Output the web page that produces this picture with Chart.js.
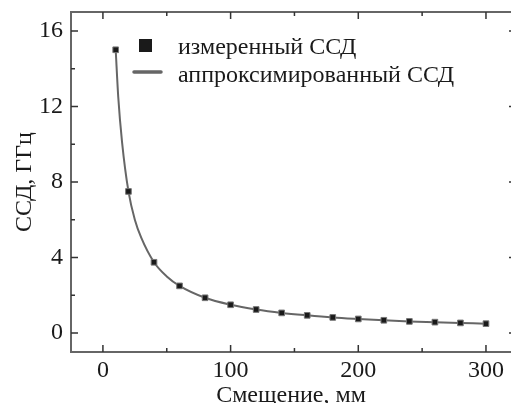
<!DOCTYPE html>
<html>
<head>
<meta charset="utf-8">
<style>
  html, body { margin: 0; padding: 0; background: #fff; }
  canvas { display: block; }
</style>
</head>
<body>
<div>
  <canvas id="chart" width="511" height="403"></canvas>
</div>

<script src="https://cdn.jsdelivr.net/npm/chart.js"></script>

<script>
  const offsets = [10, 20, 40, 60, 80, 100, 120, 140, 160, 180, 200, 220, 240, 260, 280, 300];
  const measured = [15, 7.5, 3.75, 2.5, 1.87, 1.5, 1.25, 1.07, 0.94, 0.83, 0.75, 0.68, 0.62, 0.58, 0.54, 0.5];
  // fitted curve at a few extra offsets
  const fitOffsets = [10, 12, 15, 20, 25, 30, 40, 50, 60, 80, 100, 120, 140, 160, 180, 200, 220, 240, 260, 280, 300];
  const fitted = [15, 12.5, 10.1, 7.5, 6.0, 5.05, 3.75, 3.0, 2.5, 1.87, 1.5, 1.25, 1.07, 0.94, 0.83, 0.75, 0.68, 0.62, 0.58, 0.54, 0.5];
  const xTicks = [0, 100, 200, 300];
  const yTicks = [0, 4, 8, 12, 16];
  const seriesNames = ['измеренный ССД', 'аппроксимированный ССД'];

  const FONT = '"Liberation Serif", "Times New Roman", serif';
  const FS = 24;

  // frame on top + ticks drawn inwards; the right side of the frame is cropped off
  const innerTicks = {
    id: 'innerTicks',
    afterDraw(chart) {
      const ctx = chart.ctx;
      const a = chart.chartArea;
      const xs = chart.scales.x, ys = chart.scales.y;
      const rightEdge = a.right + 5;
      ctx.save();
      ctx.strokeStyle = '#666';
      ctx.lineWidth = 2;
      ctx.beginPath();
      ctx.moveTo(a.left, a.top); ctx.lineTo(a.right, a.top);
      ctx.stroke();
      ctx.strokeStyle = '#333';
      ctx.lineWidth = 1.5;
      ctx.beginPath();
      for (let v = 0; v <= 300; v += 50) {
        const len = v % 100 === 0 ? 7 : 4;
        const px = xs.getPixelForValue(v);
        ctx.moveTo(px, a.bottom); ctx.lineTo(px, a.bottom - len);
        ctx.moveTo(px, a.top); ctx.lineTo(px, a.top + len);
      }
      for (let v = 0; v <= 16; v += 2) {
        const len = v % 4 === 0 ? 7 : 4;
        const py = ys.getPixelForValue(v);
        ctx.moveTo(a.left, py); ctx.lineTo(a.left + len, py);
        ctx.moveTo(rightEdge, py); ctx.lineTo(rightEdge - len, py);
      }
      ctx.stroke();
      ctx.restore();
    }
  };

  // legend inside the plot, upper right
  const innerLegend = {
    id: 'innerLegend',
    afterDraw(chart) {
      const ctx = chart.ctx;
      ctx.save();
      ctx.fillStyle = '#1a1a1a';
      ctx.fillRect(139, 39, 13, 13);
      ctx.strokeStyle = '#666';
      ctx.lineWidth = 3.5;
      ctx.lineCap = 'round';
      ctx.beginPath();
      ctx.moveTo(134, 72); ctx.lineTo(161, 72);
      ctx.stroke();
      ctx.fillStyle = '#1a1a1a';
      ctx.font = FS + 'px ' + FONT;
      ctx.textBaseline = 'alphabetic';
      ctx.fillText(seriesNames[0], 178, 54);
      ctx.fillText(seriesNames[1], 178, 82);
      ctx.restore();
    }
  };

  new Chart(document.getElementById('chart'), {
    type: 'scatter',
    data: {
      datasets: [
        {
          label: seriesNames[0],
          data: offsets.map((x, i) => ({ x: x, y: measured[i] })),
          showLine: false,
          pointStyle: 'rect',
          pointRadius: 4,
          pointHoverRadius: 4,
          backgroundColor: '#1a1a1a',
          borderColor: '#777',
          borderWidth: 1,
          order: 0
        },
        {
          label: seriesNames[1],
          data: fitOffsets.map((x, i) => ({ x: x, y: fitted[i] })),
          showLine: true,
          pointRadius: 0,
          borderColor: '#666',
          borderWidth: 2,
          cubicInterpolationMode: 'monotone',
          order: 1
        }
      ]
    },
    options: {
      responsive: false,
      animation: false,
      layout: { autoPadding: false, padding: { top: 12, right: 0, left: 0, bottom: 0 } },
      plugins: { legend: { display: false }, tooltip: { enabled: false } },
      scales: {
        x: {
          type: 'linear',
          min: -25,
          max: 319.6,
          afterBuildTicks: s => { s.ticks = xTicks.map(v => ({ value: v })); },
          afterFit: s => { s.height = 51; s.paddingLeft = 0; s.paddingRight = 0; },
          grid: { display: false, drawTicks: false },
          border: { display: true, color: '#666', width: 2 },
          ticks: {
            color: '#1a1a1a',
            padding: 4,
            maxRotation: 0,
            font: { family: FONT, size: FS }
          },
          title: {
            display: true,
            text: 'Смещение, мм',
            color: '#1a1a1a',
            padding: { top: 0, bottom: -7 },
            font: { family: FONT, size: FS }
          }
        },
        y: {
          type: 'linear',
          min: -1,
          max: 17,
          afterBuildTicks: s => { s.ticks = yTicks.map(v => ({ value: v })); },
          afterFit: s => { s.width = 71; s.paddingTop = 0; s.paddingBottom = 0; },
          grid: { display: false, drawTicks: false },
          border: { display: true, color: '#666', width: 2 },
          ticks: {
            color: '#1a1a1a',
            padding: 8,
            font: { family: FONT, size: FS }
          },
          title: {
            display: true,
            text: 'ССД, ГГц',
            color: '#1a1a1a',
            padding: { top: 10, bottom: 0 },
            font: { family: FONT, size: FS }
          }
        }
      }
    },
    plugins: [innerTicks, innerLegend]
  });
</script>
</body>
</html>
